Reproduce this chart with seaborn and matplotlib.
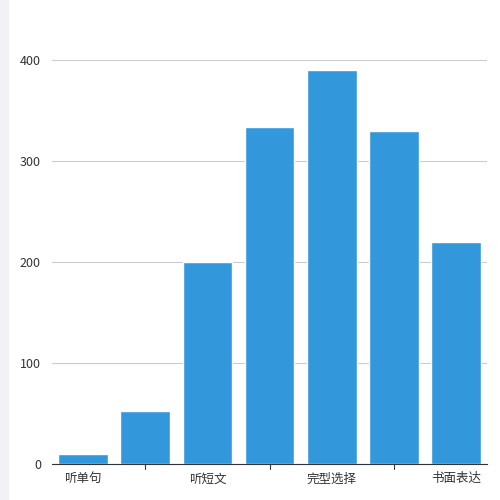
import matplotlib
matplotlib.use("Agg")
import matplotlib.pyplot as plt
import seaborn as sns
import pandas as pd

categories = ["听单句", "听对话", "听短文", "阅读理解", "完型选择", "任务型阅读", "书面表达"]
tick_labels = ["听单句", "", "听短文", "", "完型选择", "", "书面表达"]
values = [10, 52, 200, 334, 390, 330, 220]

sns.set_style("white")
plt.rcParams['font.family'] = ['Noto Sans CJK SC', 'DejaVu Sans']

fig = plt.figure(figsize=(5, 5), dpi=100)
fig.patches.append(plt.Rectangle((0, 0), 0.016, 1, transform=fig.transFigure, color="#f2f2f6", zorder=0))
ax = fig.add_axes([0.104, 0.072, 0.87, 0.808])
df = pd.DataFrame({"cat": categories, "val": values})
sns.barplot(data=df, x="cat", y="val", color="#3398DB", saturation=1, width=0.8, ax=ax)
ax.set_ylim(0, 400)
ax.set_yticks([0, 100, 200, 300, 400])
ax.yaxis.grid(True, color="#cccccc", linewidth=0.8)
ax.set_axisbelow(True)
ax.set_xlabel("")
ax.set_ylabel("")
ax.set_xticks(range(7))
ax.set_xticklabels(tick_labels)
ax.tick_params(axis="x", length=0, labelsize=9, colors="#333333", pad=6)
ax.tick_params(axis="y", length=0, labelsize=9, colors="#333333", pad=8)
for i in [1, 3, 5]:
    ax.plot([i, i], [0, -0.012], transform=ax.get_xaxis_transform(), color="#333333", lw=0.8, clip_on=False)
for s in ["top", "right", "left"]:
    ax.spines[s].set_visible(False)
ax.spines["bottom"].set_color("#333333")
ax.set_xlim(-0.5, 6.5)
fig.savefig("out.png", dpi=100)
